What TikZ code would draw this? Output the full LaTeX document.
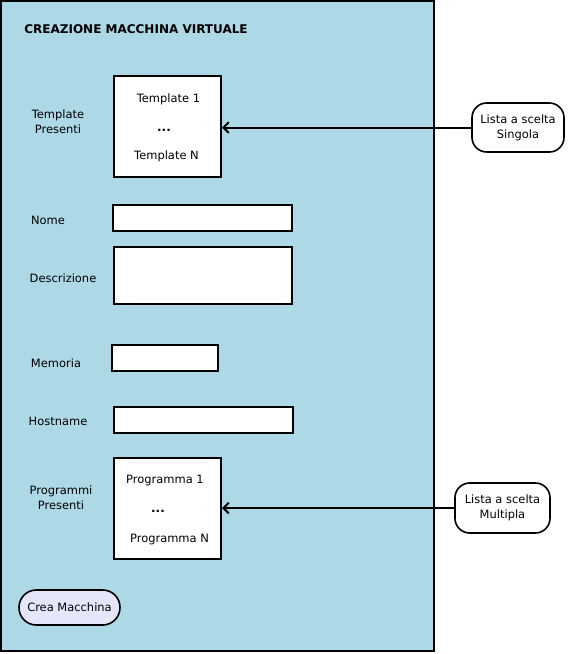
\documentclass[tikz,border=0pt]{standalone}
\usepackage{fontspec}
\setmainfont{DejaVu Sans}
\usetikzlibrary{arrows.meta}
\definecolor{panel}{HTML}{ADD8E6}
\definecolor{btn}{HTML}{E6E6FA}
\begin{document}
\begin{tikzpicture}[x=0.75pt,y=-0.75pt,
  every node/.style={font=\fontsize{8.6}{11}\selectfont, text=black},
  field/.style={draw=black, line width=1.5pt, fill=white, rectangle, inner sep=0pt},
  bubble/.style={draw=black, line width=1.2pt, fill=white, rounded corners=11pt, inner sep=0pt, align=center},
  lbl/.style={align=center, inner sep=0pt},
  arr/.style={line width=1.5pt, -{Straight Barb[length=4pt,width=8pt]}}]
\useasboundingbox (0,0) rectangle (568,654);
\fill[white] (0,0) rectangle (568,654);
\draw[line width=1.5pt, fill=panel] (1,1) rectangle (434,651);
\node[lbl, font=\fontsize{9}{11}\selectfont\bfseries] (title) at (136,29) {CREAZIONE MACCHINA VIRTUALE};

\node[field, minimum width=80.25pt, minimum height=75.75pt] (tmpl) at (167.5,126.5) {};
\node[lbl] (t1) at (168.5,99) {Template 1};
\node[lbl, font=\fontsize{9}{11}\selectfont\bfseries] (tdots) at (164,130) {...};
\node[lbl] (tn) at (166.5,156) {Template N};
\node[lbl] (ltmpl) at (58,122) {Template\\Presenti};

\node[field, minimum width=134.25pt, minimum height=19.5pt] (nome) at (202.5,218) {};
\node[lbl] (lnome) at (48,220) {Nome};

\node[field, minimum width=133.5pt, minimum height=42.75pt] (descr) at (203,275.5) {};
\node[lbl] (ldescr) at (63,278) {Descrizione};

\node[field, minimum width=79.5pt, minimum height=19.5pt] (mem) at (165,358) {};
\node[lbl] (lmem) at (56,363) {Memoria};

\node[field, minimum width=134.25pt, minimum height=19.5pt] (host) at (203.5,420) {};
\node[lbl] (lhost) at (58,421) {Hostname};

\node[field, minimum width=80.25pt, minimum height=75.75pt] (prog) at (167.5,508.5) {};
\node[lbl] (p1) at (165,481) {Programma 1};
\node[lbl, font=\fontsize{9}{11}\selectfont\bfseries] (pdots) at (158,511) {...};
\node[lbl] (pn) at (169.5,540) {Programma N};
\node[lbl] (lprog) at (61,498) {Programmi\\Presenti};

\node[bubble, minimum width=69pt, minimum height=36.75pt] (sing) at (518,127.5) {Lista a scelta\\Singola};
\node[bubble, minimum width=71.25pt, minimum height=37.5pt] (mult) at (502.5,508) {Lista a scelta\\Multipla};

\node[draw=black, line width=1.2pt, fill=btn, rounded corners=13pt, inner sep=0pt, minimum width=75.75pt, minimum height=26.25pt] (crea) at (69.5,607.5) {Crea Macchina};

\draw[arr] (sing.west) -- (tmpl.east |- sing.west);
\draw[arr] (mult.west) -- (prog.east |- mult.west);
\end{tikzpicture}
\end{document}
